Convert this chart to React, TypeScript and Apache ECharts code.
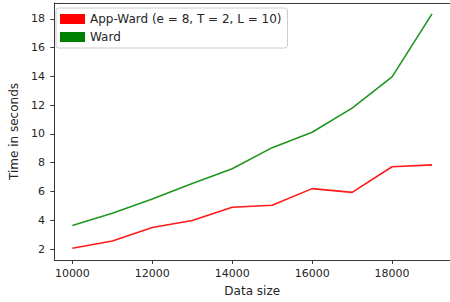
import React, { useEffect, useRef } from "react";
import * as echarts from "echarts";

const dataSizes = [10000, 11000, 12000, 13000, 14000, 15000, 16000, 17000, 18000, 19000];
const appWardTimes = [2.05, 2.56, 3.5, 3.98, 4.9, 5.04, 6.2, 5.94, 7.72, 7.85];
const wardTimes = [3.64, 4.48, 5.47, 6.55, 7.58, 9.05, 10.12, 11.8, 13.97, 18.35];
const xTicks = [10000, 12000, 14000, 16000, 18000];
const yTicks = [2, 4, 6, 8, 10, 12, 14, 16, 18];
const seriesNames = ["App-Ward (e = 8, T = 2, L = 10)", "Ward"];

const FONT = "'DejaVu Sans', sans-serif";
const TEXT = "#262626";
const AXIS = "#3a3a3a";
const FS = 11;
const FS_BIG = 12;

export default function App() {
  const ref = useRef<HTMLDivElement>(null);
  useEffect(() => {
    if (!ref.current) return;
    const chart = echarts.init(ref.current, null, { renderer: "svg" });
    const xMin = 9550;
    const xMax = 19450;
    const yMin = 1.235;
    const yMax = 19.11;
    chart.setOption({
      animation: false,
      backgroundColor: "#ffffff",
      textStyle: { fontFamily: FONT },
      grid: { left: 49.5, top: 3, width: 402.5, height: 261, containLabel: false },
      legend: {
        orient: "vertical",
        left: 56,
        top: 8,
        data: seriesNames,
        icon: "rect",
        itemWidth: 25,
        itemHeight: 10,
        itemGap: 6,
        padding: [5, 6, 5, 4],
        backgroundColor: "rgba(255,255,255,0.8)",
        borderColor: "#cccccc",
        borderWidth: 1,
        borderRadius: 3,
        textStyle: { fontFamily: FONT, fontSize: FS_BIG, color: TEXT, lineHeight: 12 },
      },
      xAxis: [
        {
          type: "value",
          min: xMin,
          max: xMax,
          name: "Data size",
          nameLocation: "middle",
          nameGap: 25,
          nameTextStyle: { fontFamily: FONT, fontSize: FS_BIG, color: TEXT },
          axisLine: { show: true, onZero: false, lineStyle: { color: AXIS, width: 1 } },
          axisTick: { show: true, length: 4, customValues: xTicks, lineStyle: { color: AXIS } },
          axisLabel: {
            customValues: xTicks,
            margin: 8,
            fontFamily: FONT,
            fontSize: FS,
            color: TEXT,
            formatter: (v: number) => String(v),
          },
          splitLine: { show: false },
        },
        {
          type: "value",
          position: "top",
          min: xMin,
          max: xMax,
          axisLine: { show: true, onZero: false, lineStyle: { color: AXIS, width: 1 } },
          axisTick: { show: false },
          axisLabel: { show: false },
          splitLine: { show: false },
        },
      ],
      yAxis: {
        type: "value",
        min: yMin,
        max: yMax,
        name: "Time in seconds",
        nameLocation: "middle",
        nameRotate: 90,
        nameGap: 30,
        nameTextStyle: { fontFamily: FONT, fontSize: FS_BIG, color: TEXT },
        axisLine: { show: true, onZero: false, lineStyle: { color: AXIS, width: 1 } },
        axisTick: { show: true, length: 4, customValues: yTicks, lineStyle: { color: AXIS } },
        axisLabel: { customValues: yTicks, margin: 9.5, fontFamily: FONT, fontSize: FS, color: TEXT },
        splitLine: { show: false },
      },
      series: [
        {
          name: seriesNames[0],
          type: "line",
          data: dataSizes.map((x, i) => [x, appWardTimes[i]]),
          showSymbol: false,
          symbol: "none",
          color: "#ff0000",
          lineStyle: { color: "#ff1a1a", width: 1.6 },
        },
        {
          name: seriesNames[1],
          type: "line",
          data: dataSizes.map((x, i) => [x, wardTimes[i]]),
          showSymbol: false,
          symbol: "none",
          color: "#008000",
          lineStyle: { color: "#1f961f", width: 1.6 },
        },
      ],
    });
    return () => chart.dispose();
  }, []);
  return (
    <div
      ref={ref}
      style={{ position: "fixed", left: 0, top: 0, width: 450, height: 302, background: "#fff" }}
    />
  );
}
